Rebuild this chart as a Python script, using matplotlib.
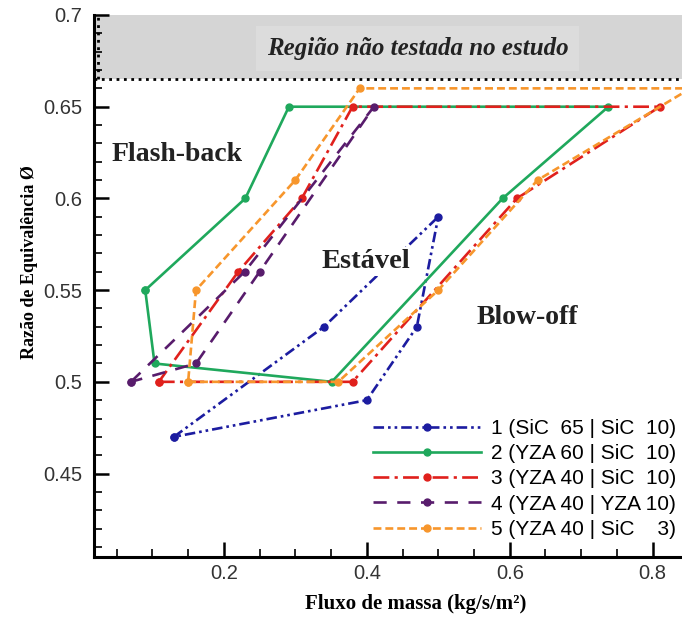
import matplotlib
matplotlib.use("Agg")
import matplotlib.pyplot as plt
from matplotlib.ticker import MultipleLocator, FuncFormatter

# values (mass flux, equivalence ratio)
x1 = [0.13, 0.34, 0.50, 0.47, 0.40, 0.13]
y1 = [0.47, 0.53, 0.59, 0.53, 0.49, 0.47]

x2 = [0.09, 0.103, 0.351, 0.59, 0.738, 0.291, 0.23, 0.09]
y2 = [0.55, 0.51, 0.50, 0.60, 0.65, 0.65, 0.60, 0.55]

x3 = [0.109, 0.38, 0.61, 0.81, 0.38, 0.309, 0.22, 0.109]
y3 = [0.50, 0.50, 0.60, 0.65, 0.65, 0.60, 0.56, 0.50]

x4 = [0.07, 0.229, 0.41, 0.25, 0.161, 0.07]
y4 = [0.50, 0.56, 0.65, 0.56, 0.51, 0.50]

x5 = [0.15, 0.36, 0.50, 0.639, 0.853, 0.39, 0.30, 0.161, 0.15]
y5 = [0.50, 0.50, 0.55, 0.61, 0.66, 0.66, 0.61, 0.55, 0.50]

labels = ["1 (SiC  65 | SiC  10)",
          "2 (YZA 60 | SiC  10)",
          "3 (YZA 40 | SiC  10)",
          "4 (YZA 40 | YZA 10)",
          "5 (YZA 40 | SiC    3)"]

colors = ["#1c1ca0", "#1fa85c", "#e0201c", "#581c6c", "#f7962c"]
styles = [(0, (4, 1.5, 1, 1.5, 1, 1.5)),
          "-",
          (0, (6, 2, 1.2, 2)),
          (0, (5, 4)),
          (0, (3, 1.5))]

serif = "Liberation Serif"
sans = "Liberation Sans"

fig = plt.figure(figsize=(6.82, 6.19), dpi=100)
ax = fig.add_axes([94.5 / 682, 62 / 619, 587.5 / 682, 542 / 619])

# region not tested
ax.axhspan(0.665, 0.7, color="#d5d5d5", lw=0, zorder=0)
ax.axhline(0.665, color="k", ls=":", lw=2, zorder=1)
ax.plot([0.0235, 0.0235], [0.665, 0.7], color="k", ls=":", lw=2, zorder=1)
ax.text(0.471, 0.6815, "Região não testada no estudo", family=serif,
        style="italic", weight="bold", fontsize=18, color="#222222",
        ha="center", va="center",
        bbox=dict(facecolor="#dcdcdc", edgecolor="none", pad=8))

series = [(x1, y1), (x2, y2), (x3, y3), (x4, y4), (x5, y5)]
for (xs, ys), lab, c, ls in zip(series, labels, colors, styles):
    ax.plot(xs, ys, color=c, ls=ls, lw=1.9, marker="o", markersize=5,
            label=lab, zorder=3)

ax.text(0.0435, 0.624, "Flash-back", family=serif, weight="bold",
        fontsize=20, color="#222222", va="center")
ax.text(0.337, 0.5655, "Estável", family=serif, weight="bold",
        fontsize=20.5, color="#222222", va="center", zorder=4,
        bbox=dict(facecolor="white", edgecolor="none", pad=1.5))
ax.text(0.554, 0.535, "Blow-off", family=serif, weight="bold",
        fontsize=20, color="#222222", va="center")

ax.set_xlim(0.019, 0.841)
ax.set_ylim(0.4045, 0.7)
ax.xaxis.set_major_locator(MultipleLocator(0.2))
ax.xaxis.set_minor_locator(MultipleLocator(0.05))
ax.yaxis.set_major_locator(MultipleLocator(0.05))
ax.yaxis.set_minor_locator(MultipleLocator(0.01))
fmt = FuncFormatter(lambda v, p: "%g" % round(v, 3))
ax.xaxis.set_major_formatter(fmt)
ax.yaxis.set_major_formatter(fmt)

for s in ["top", "right"]:
    ax.spines[s].set_visible(False)
for s in ["left", "bottom"]:
    ax.spines[s].set_linewidth(2.2)
ax.tick_params(which="major", direction="in", length=11, width=1.8,
               labelsize=14.5, labelcolor="#333333")
ax.tick_params(which="minor", direction="in", length=5.5, width=1.2)
ax.tick_params(axis="y", which="major", pad=9)
ax.tick_params(axis="x", which="major", pad=5)
for t in ax.get_xticklabels() + ax.get_yticklabels():
    t.set_family(sans)

ax.set_xlabel("Fluxo de massa (kg/s/m²)", family=serif,
              weight="bold", fontsize=15)
ax.xaxis.set_label_coords(0.547, -0.068)
ax.set_ylabel("Razão de Equivalência Ø", family=serif, weight="bold",
              fontsize=13)
ax.yaxis.set_label_coords(-0.097, 0.544)

leg = ax.legend(loc="lower right", bbox_to_anchor=(676 / 682, 80 / 619),
                bbox_transform=fig.transFigure, frameon=False,
                prop={"family": sans, "size": 15}, handlelength=5.2,
                handletextpad=0.45, labelspacing=0.3, borderaxespad=0,
                borderpad=0, numpoints=1)

fig.savefig("out.png", dpi=100)
